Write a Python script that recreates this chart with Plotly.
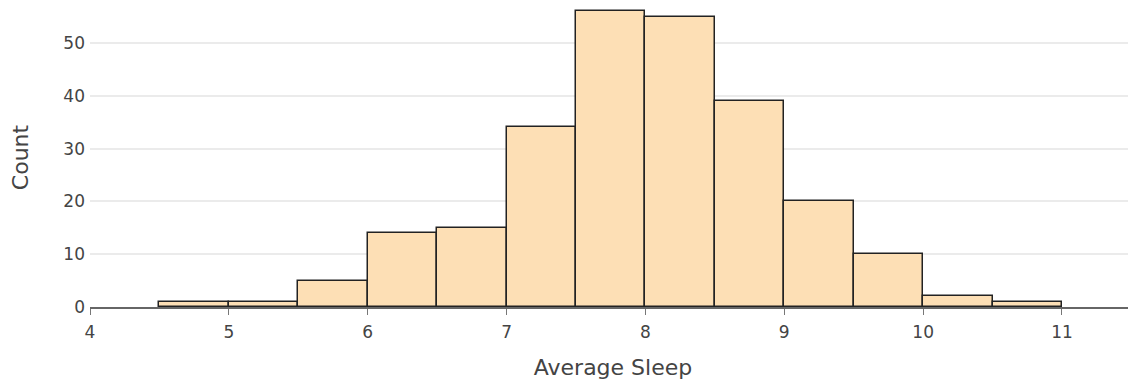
import plotly.graph_objects as go

bin_starts = [4.5, 5.0, 5.5, 6.0, 6.5, 7.0, 7.5, 8.0, 8.5, 9.0, 9.5, 10.0, 10.5]
counts = [1, 1, 5, 14, 15, 34, 56, 55, 39, 20, 10, 2, 1]
bin_width = 0.5
x_ticks = [4, 5, 6, 7, 8, 9, 10, 11]
y_ticks = [0, 10, 20, 30, 40, 50]

centers = [s + bin_width / 2 for s in bin_starts]

fig = go.Figure(go.Bar(
    x=centers, y=counts, width=bin_width,
    marker=dict(color="#FDDFB5", line=dict(color="#222222", width=1.5)),
))

font = "DejaVu Sans, Verdana, sans-serif"
fig.update_layout(
    width=1128, height=375,
    margin=dict(l=82, r=0, t=0, b=76),
    paper_bgcolor="white", plot_bgcolor="white",
    font=dict(family=font, color="#444444", size=17),
    showlegend=False, bargap=0,
)
fig.update_xaxes(
    range=[4, 11.533], tickvals=x_ticks, ticks="outside", ticklen=6,
    tickcolor="#777777", showline=True, linecolor="#666666", linewidth=1.5,
    showgrid=False, zeroline=False, ticklabelstandoff=3,
    title=dict(text="Average Sleep", font=dict(size=22), standoff=18),
)
fig.update_yaxes(
    range=[0, 56.63], tickvals=y_ticks, showgrid=True, gridcolor="#EBEBEB",
    gridwidth=1.5, zeroline=False, ticks="", ticklabelstandoff=4,
    title=dict(text="Count", font=dict(size=22), standoff=30),
)
fig.write_html("out.html")
